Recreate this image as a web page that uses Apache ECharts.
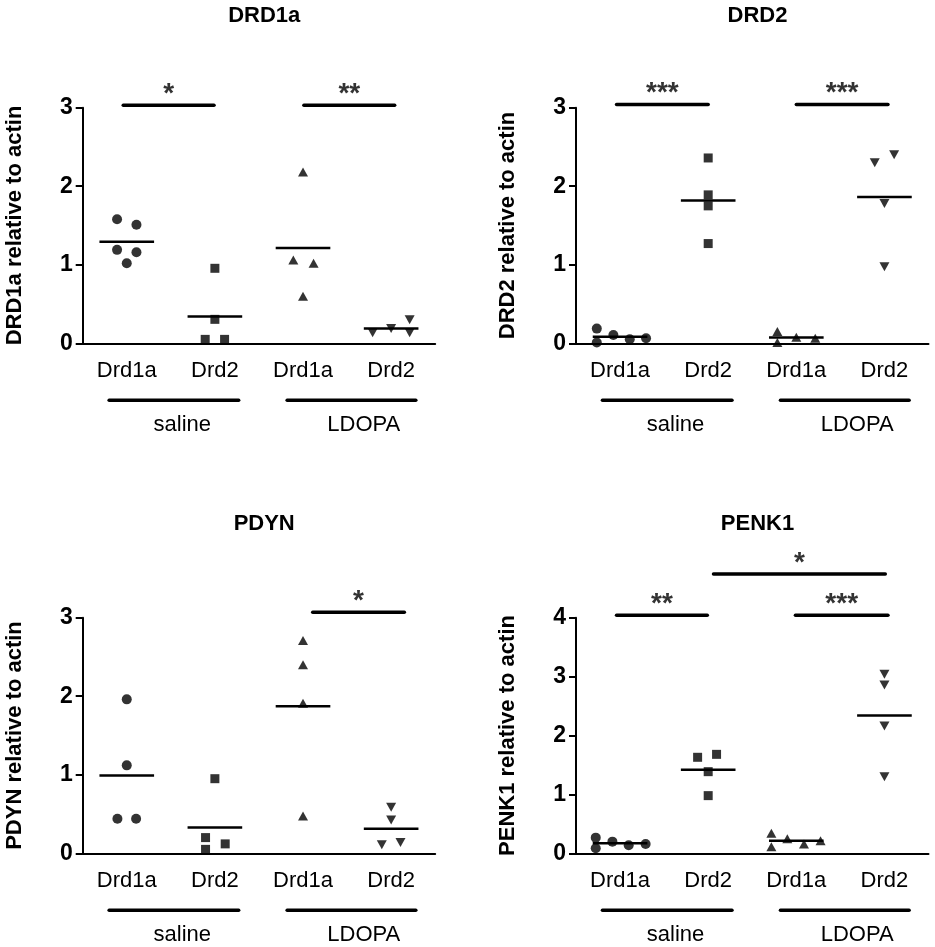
<!DOCTYPE html>
<html>
<head>
    <meta charset="utf-8">
    <script src="https://cdn.jsdelivr.net/npm/echarts@6/dist/echarts.min.js"></script>
    <style>
        html, body { margin: 0; padding: 0; background: #fff; }
        #container { width: 935px; height: 947px; }
    </style>
</head>
<body>
<div id="container"></div>
<script>
    // columns: saline Drd1a, saline Drd2, LDOPA Drd1a, LDOPA Drd2
    const categories = ['Drd1a', 'Drd2', 'Drd1a', 'Drd2'];
    const groups = ['saline', 'LDOPA'];
    const titles = ['DRD1a', 'DRD2', 'PDYN', 'PENK1'];
    const yNames = ['DRD1a relative to actin', 'DRD2 relative to actin', 'PDYN relative to actin', 'PENK1 relative to actin'];
    const yMax = [3, 3, 3, 4];

    const drd1aValues = [[1.58, 1.51, 1.19, 1.16, 1.02], [0.955, 0.305, 0.05, 0.05], [2.18, 1.06, 1.02, 0.60], [0.135, 0.19, 0.135, 0.30]];
    const drd2Values = [[0.187, 0.01, 0.106, 0.051, 0.064], [2.36, 1.89, 1.75, 1.27], [0.149, 0.01, 0.076, 0.064], [2.30, 2.40, 1.78, 0.976]];
    const pdynValues = [[1.96, 1.12, 0.441, 0.441], [0.95, 0.2, 0.05, 0.12], [2.71, 2.40, 1.91, 0.475], [0.586, 0.424, 0.11, 0.136]];
    const penk1Values = [[0.266, 0.085, 0.198, 0.136, 0.158], [1.63, 1.68, 1.386, 0.979], [0.34, 0.113, 0.249, 0.158, 0.215], [3.04, 2.857, 2.16, 1.30]];

    // horizontal scatter of the dots inside a column (in column widths)
    const drd1aJitter = [[-0.11, 0.11, -0.11, 0.11, 0], [0, 0, -0.11, 0.11], [0, -0.11, 0.12, 0], [-0.21, 0, 0.21, 0.21]];
    const drd2Jitter = [[-0.264, -0.264, -0.076, 0.11, 0.295], [0, 0, 0, 0], [-0.215, -0.215, 0, 0.215], [-0.11, 0.11, 0, 0]];
    const pdynJitter = [[0, 0, -0.106, 0.106], [0, -0.106, -0.106, 0.117], [0, 0, 0, 0], [0, 0, -0.106, 0.106]];
    const penk1Jitter = [[-0.276, -0.276, -0.087, 0.098, 0.29], [-0.12, 0.095, 0, 0], [-0.283, -0.283, -0.102, 0.087, 0.275], [0, 0, 0, 0]];

    // significance bars: [from column, to column, level, stars]
    const drd1aSig = [[-0.04, 0.99, 3.03, '*'], [2.01, 3.04, 3.03, '**']];
    const drd2Sig = [[-0.04, 1.0, 3.04, '***'], [2.0, 3.04, 3.04, '***']];
    const pdynSig = [[2.11, 3.15, 3.07, '*']];
    const penk1Sig = [[-0.04, 0.99, 4.04, '**'], [1.99, 3.04, 4.04, '***'], [1.06, 3.01, 4.74, '*']];

    const panelValues = [drd1aValues, drd2Values, pdynValues, penk1Values];
    const panelJitter = [drd1aJitter, drd2Jitter, pdynJitter, penk1Jitter];
    const panelSig = [drd1aSig, drd2Sig, pdynSig, penk1Sig];

    const font = 'Liberation Sans, Arial, sans-serif';
    const symbols = ['circle', 'rect', 'triangle', 'triangle'];
    const symbolSizes = [10, 9, [10, 9], [10, 9]];
    const gridPos = [[82.7, 107.7], [576, 107.7], [82.7, 617.7], [576, 617.7]];
    const gridW = 352.5, gridH = 235.6;
    // span of the group underline and label position, in column units
    const groupSpans = [[-0.2, 1.27], [1.82, 3.28]];
    const groupLabelX = [0.63, 2.69];

    let dom = document.getElementById('container');
    let myChart = echarts.init(dom);

    let grid = [], xAxis = [], yAxis = [], series = [], title = [];
    for (let p = 0; p < 4; p++) {
        grid.push({left: gridPos[p][0], top: gridPos[p][1], width: gridW, height: gridH});
        title.push({
            text: titles[p], left: gridPos[p][0] + 176.5, top: p > 1 ? 508 : 0, textAlign: 'center',
            textStyle: {fontFamily: font, fontSize: 22, fontWeight: 'bold', color: '#000'}
        });
        xAxis.push({
            type: 'category', gridIndex: p, data: categories, boundaryGap: true,
            axisLine: {onZero: false, lineStyle: {color: '#000', width: 2}},
            axisTick: {alignWithLabel: true, length: 7, lineStyle: {color: '#000', width: 2}},
            axisLabel: {fontFamily: font, fontSize: 22, color: '#000', margin: 17}
        });
        xAxis.push({type: 'value', gridIndex: p, min: -0.5, max: 3.5, show: false});
        yAxis.push({
            type: 'value', gridIndex: p, min: 0, max: yMax[p], interval: 1,
            name: yNames[p], nameLocation: 'middle', nameGap: 57,
            nameTextStyle: {fontFamily: font, fontSize: 22, fontWeight: 'bold', color: '#000'},
            axisLine: {show: true, onZero: false, lineStyle: {color: '#000', width: 2}},
            axisTick: {show: true, length: 7, lineStyle: {color: '#000', width: 2}},
            axisLabel: {fontFamily: font, fontSize: 23, fontWeight: 'bold', color: '#000', margin: 10},
            splitLine: {show: false}
        });

        const xi = 2 * p + 1;
        panelValues[p].forEach(function (col, c) {
            const jit = panelJitter[p][c];
            series.push({
                type: 'scatter', xAxisIndex: xi, yAxisIndex: p, clip: false,
                symbol: symbols[c], symbolSize: symbolSizes[c], symbolRotate: c === 3 ? 180 : 0,
                itemStyle: {color: '#000'},
                data: col.map(function (v, i) { return [c + jit[i], v]; })
            });
            const mean = col.reduce(function (a, b) { return a + b; }, 0) / col.length;
            series.push({
                type: 'line', xAxisIndex: xi, yAxisIndex: p, clip: false, symbol: 'none',
                lineStyle: {color: '#000', width: 2.5},
                data: [[c - 0.31, mean], [c + 0.31, mean]]
            });
        });

        panelSig[p].forEach(function (s) {
            series.push({
                type: 'line', xAxisIndex: xi, yAxisIndex: p, clip: false, symbol: 'none',
                lineStyle: {color: '#000', width: 3.5, cap: 'round'},
                data: [[s[0], s[2]], [s[1], s[2]]]
            });
            series.push({
                type: 'scatter', xAxisIndex: xi, yAxisIndex: p, clip: false, symbolSize: 0,
                label: {
                    show: true, position: 'top', distance: -3, formatter: s[3],
                    fontFamily: font, fontSize: 28, fontWeight: 'bold', color: '#000'
                },
                data: [[(s[0] + s[1]) / 2, s[2]]]
            });
        });
    }

    option = {
        animation: false,
        backgroundColor: '#fff',
        title: title,
        grid: grid,
        xAxis: xAxis,
        yAxis: yAxis,
        series: series
    };
    myChart.setOption(option);

    // group underlines and labels below the category labels
    let graphic = [];
    for (let p = 0; p < 4; p++) {
        const y0 = myChart.convertToPixel({yAxisIndex: p}, 0);
        groups.forEach(function (g, k) {
            const x1 = myChart.convertToPixel({xAxisIndex: 2 * p + 1}, groupSpans[k][0]);
            const x2 = myChart.convertToPixel({xAxisIndex: 2 * p + 1}, groupSpans[k][1]);
            const xl = myChart.convertToPixel({xAxisIndex: 2 * p + 1}, groupLabelX[k]);
            graphic.push({
                type: 'line', shape: {x1: x1, y1: y0 + 57, x2: x2, y2: y0 + 57},
                style: {stroke: '#000', lineWidth: 3.5, lineCap: 'round'}
            });
            graphic.push({
                type: 'text', x: xl, y: y0 + 82,
                style: {text: g, fill: '#000', font: '22px ' + font, textAlign: 'center', textVerticalAlign: 'middle'}
            });
        });
    }
    myChart.setOption({graphic: graphic});
</script>
</body>
</html>
